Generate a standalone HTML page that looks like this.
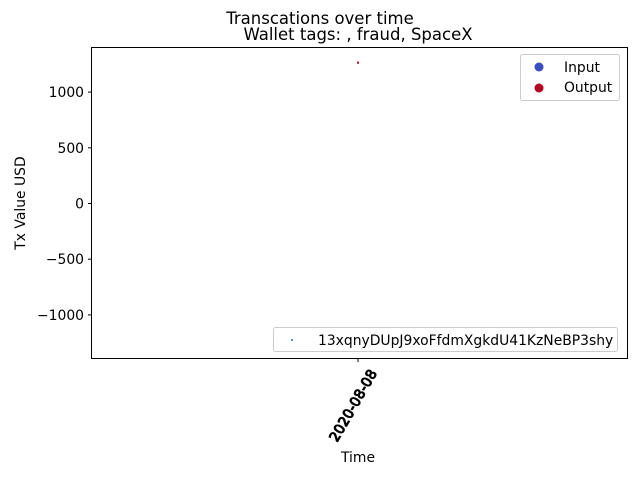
<!DOCTYPE html>
<html><head><meta charset="utf-8"><style>
body{margin:0;background:#fff;font-family:"Liberation Sans","DejaVu Sans",sans-serif}
svg text{font-family:"DejaVu Sans","Liberation Sans",sans-serif}
</style></head><body>
<svg width="640" height="480" viewBox="0 0 640 480">
<text x="320" y="24" font-size="16.5" text-anchor="middle">Transcations over time</text>
<text x="358" y="40" font-size="16.5" text-anchor="middle">Wallet tags: , fraud, SpaceX</text>
<rect x="91.5" y="47.5" width="536" height="311" fill="none" stroke="#000" stroke-width="1"/>
<g id="yticks"></g>
<g id="xticks"></g>
<g id="marks"></g>
<text x="25" y="203" font-size="13.9" text-anchor="middle" transform="rotate(-90 25 203)">Tx Value USD</text>
<text x="358" y="462" font-size="13.9" text-anchor="middle">Time</text>
<g>
<rect x="520.5" y="54.5" width="99" height="46" rx="2" fill="#fff" stroke="#ccc"/>
<circle cx="539" cy="67" r="4.5" fill="#3b4cc0"/>
<text x="564" y="72" font-size="13.9">Input</text>
<circle cx="539" cy="88" r="4.5" fill="#b40426"/>
<text x="564" y="92" font-size="13.9">Output</text>
</g>
<g>
<rect x="273.5" y="327.5" width="344" height="24" rx="2" fill="#fff" stroke="#ccc"/>
<circle cx="292" cy="340" r="1" fill="#1f77b4"/>
<text x="318" y="345" font-size="13.9">13xqnyDUpJ9xoFfdmXgkdU41KzNeBP3shy</text>
</g>
</svg>
<script>
const yTicks=[1000,500,0,-500,-1000];
const yTickLabels=["1000","500","0","\u2212500","\u22121000"];
const xCategories=["2020-08-08"];
const pointDates=["2020-08-08"];
const pointValues=[1264];
const pointTypes=["Output"];
const NS="http://www.w3.org/2000/svg";
function yScale(v){return 203.5-v*(55.7/500);}
function xScale(d){return 358;}
const yt=document.getElementById('yticks');
yTicks.forEach((t,i)=>{
 const y=yScale(t);
 const l=document.createElementNS(NS,'line');
 l.setAttribute('x1',88);l.setAttribute('x2',91.5);l.setAttribute('y1',y);l.setAttribute('y2',y);l.setAttribute('stroke','#000');
 
 
 yt.appendChild(l);
 const tx=document.createElementNS(NS,'text');
 tx.setAttribute('x',84);tx.setAttribute('y',y+5);tx.setAttribute('font-size',13.9);tx.setAttribute('text-anchor','end');
 tx.textContent=yTickLabels[i];
 
 
 yt.appendChild(tx);
});
const xt=document.getElementById('xticks');
xCategories.forEach(c=>{
 const x=xScale(c);
 const l=document.createElementNS(NS,'line');
 l.setAttribute('x1',x);l.setAttribute('x2',x);l.setAttribute('y1',358.5);l.setAttribute('y2',362);l.setAttribute('stroke','#000');
 
 
 xt.appendChild(l);
 for(let k=0;k<2;k++){
 const tx=document.createElementNS(NS,'text');
 tx.setAttribute('font-size',13.9);tx.setAttribute('text-anchor','end');
 tx.setAttribute('stroke','#000');tx.setAttribute('stroke-width','0.4');
 tx.setAttribute('transform','translate('+(x+19+k*0.8)+',373) rotate(-60)');
 tx.textContent=c;
 
 
 xt.appendChild(tx);}
});
const mk=document.getElementById('marks');
pointValues.forEach((v,i)=>{
 const r=document.createElementNS(NS,'rect');
 r.setAttribute('x',xScale(pointDates[i])-1);r.setAttribute('y',yScale(v)-1);r.setAttribute('width',2);r.setAttribute('height',2);
 r.setAttribute('fill',pointTypes[i]==='Output'?'#b40426':'#3b4cc0');
 
 
 mk.appendChild(r);
});
</script>
</body></html>
